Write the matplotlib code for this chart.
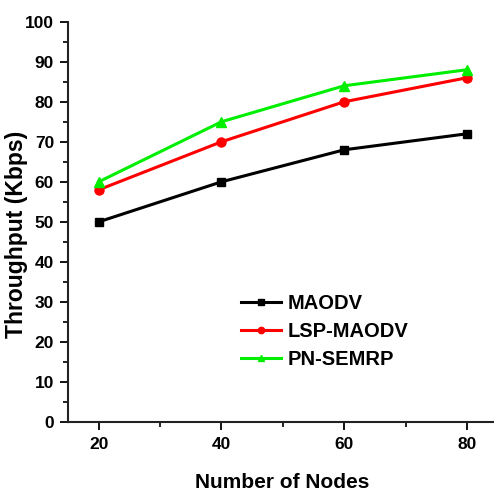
import matplotlib
matplotlib.use("Agg")
import matplotlib.pyplot as plt
from matplotlib.ticker import MultipleLocator

nodes = [20, 40, 60, 80]
maodv = [50, 60, 68, 72]
lsp_maodv = [58, 70, 80, 86]
pn_semrp = [60, 75, 84, 88]
x_ticks = [20, 40, 60, 80]
y_ticks = [0, 10, 20, 30, 40, 50, 60, 70, 80, 90, 100]

plt.rcParams['font.family'] = ['Liberation Sans', 'DejaVu Sans']
plt.rcParams['font.weight'] = 'bold'

fig = plt.figure(figsize=(4.94, 4.93), dpi=100)
ax = fig.add_axes([68/494, 1-422/493, 1-68/494, (422-21.7)/493])

ax.plot(nodes, maodv, color='black', lw=2.2, marker='s', ms=6, label='MAODV')
ax.plot(nodes, lsp_maodv, color='#ff0000', lw=2.2, marker='o', ms=6.5, label='LSP-MAODV')
ax.plot(nodes, pn_semrp, color='#00ee00', lw=2.2, marker='^', ms=7, label='PN-SEMRP')

ax.set_xlim(15, 84.4)
ax.set_ylim(0, 100)
ax.set_xticks(x_ticks)
ax.set_yticks(y_ticks)
ax.xaxis.set_minor_locator(MultipleLocator(10))
ax.yaxis.set_minor_locator(MultipleLocator(5))
for s in ['top', 'right']:
    ax.spines[s].set_visible(False)
for s in ['left', 'bottom']:
    ax.spines[s].set_linewidth(1.5)
    ax.spines[s].set_color('#222222')
ax.tick_params(which='major', direction='out', length=6, width=1.3, labelsize=12.5)
ax.tick_params(axis='x', which='major', pad=5)
ax.tick_params(axis='y', which='major', pad=4)
ax.tick_params(which='minor', direction='out', length=3.5, width=1.2)
for lab in ax.get_xticklabels() + ax.get_yticklabels():
    lab.set_fontweight('bold')

fig.text(282/494, 1-483/493, 'Number of Nodes', fontsize=15, fontweight='bold',
         ha='center', va='center')
fig.text(17/494, 1-234/493, 'Throughput (Kbps)', fontsize=16.5, fontweight='bold',
         ha='center', va='center', rotation=90)

leg = ax.legend(loc='upper left', bbox_to_anchor=(241/494, 1-294/493), bbox_transform=fig.transFigure,
                frameon=False, fontsize=14.5, handlelength=2.0, handletextpad=0.3,
                labelspacing=0.45, borderpad=0, borderaxespad=0, markerscale=0.7)
for t in leg.get_texts():
    t.set_fontweight('bold')

fig.savefig('out.png', dpi=100)
